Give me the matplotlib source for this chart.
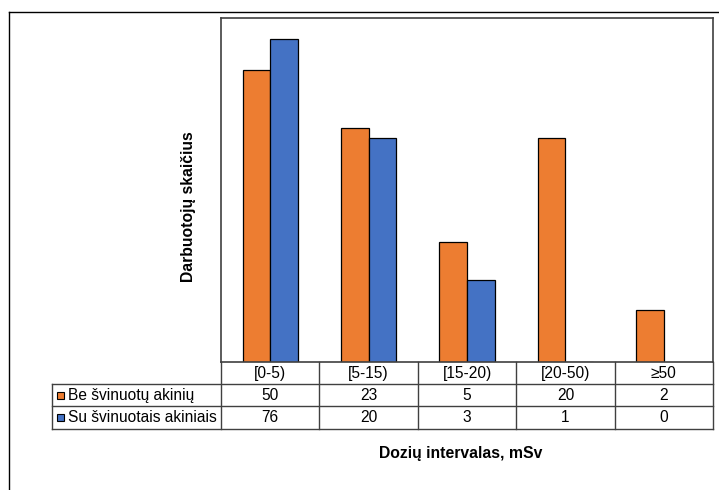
import numpy as np
import matplotlib.pyplot as plt
from matplotlib import transforms
from matplotlib.lines import Line2D
from matplotlib.patches import Rectangle

plt.rcParams['font.family'] = ['Liberation Sans', 'DejaVu Sans']

# Duomenys
intervalai = ["[0-5)", "[5-15)", "[15-20)", "[20-50)", "≥50"]
be_akiniu = [50, 23, 5, 20, 2]
su_akiniais = [76, 20, 3, 1, 0]
serijos = ["Be švinuotų akinių", "Su švinuotais akiniais"]
spalvos = ["#ED7D31", "#4472C4"]

W, H = 719, 490
fig = plt.figure(figsize=(W / 100, H / 100), dpi=100)

def fx(px):
    return px / W

def fy(py):
    return 1 - py / H

ax = fig.add_axes([fx(221), fy(362), fx(713) - fx(221), fy(18) - fy(362)])

x = np.arange(len(intervalai))
w = 0.28
for i, (vals, col) in enumerate(zip([be_akiniu, su_akiniais], spalvos)):
    v = np.array(vals, dtype=float)
    ok = v > 0
    ax.bar(x[ok] + (i - 0.5) * w, v[ok], width=w, color=col,
           edgecolor="black", linewidth=0.9)

ax.set_yscale("log")
ax.set_ylim(1, 100)
ax.set_xlim(-0.5, len(intervalai) - 0.5)
ax.set_xticks([])
ax.set_yticks([])
ax.yaxis.set_minor_locator(plt.NullLocator())
for s in ax.spines.values():
    s.set_color("#404040")
    s.set_linewidth(1.2)

# Lentelė po grafiku
tr = transforms.blended_transform_factory(ax.transData, fig.transFigure)
lc = "#404040"
fs = 11.2
rows_y = [362, 384, 406, 429]
for b in np.arange(len(intervalai) + 1) - 0.5:
    fig.add_artist(Line2D([b, b], [fy(362), fy(429)], transform=tr, color=lc, lw=1))
for r in rows_y[1:]:
    fig.add_artist(Line2D([fx(52), fx(713)], [fy(r), fy(r)], color=lc, lw=1))
fig.add_artist(Line2D([fx(52), fx(52)], [fy(384), fy(429)], color=lc, lw=1))

for i, lab in enumerate(intervalai):
    fig.text(i, fy(373), lab, transform=tr, ha="center", va="center", fontsize=fs)
for r, vals in enumerate([be_akiniu, su_akiniais]):
    yc = fy((rows_y[r + 1] + rows_y[r + 2]) / 2)
    for i, v in enumerate(vals):
        fig.text(i, yc, str(v), transform=tr, ha="center", va="center", fontsize=fs)
    fig.add_artist(Rectangle((fx(57), yc - 3.5 / H), 7 / W, 7 / H,
                             facecolor=spalvos[r], edgecolor="black", lw=0.8))
    fig.text(fx(68), yc, serijos[r], ha="left", va="center", fontsize=fs)

fig.text(fx(188), fy(207), "Darbuotojų skaičius", rotation=90, ha="center",
         va="center", fontsize=11.3, fontweight="bold")
fig.text(fx(461), fy(453), "Dozių intervalas, mSv", ha="center", va="center",
         fontsize=11.3, fontweight="bold")

# išorinis rėmelis
fig.add_artist(Line2D([fx(9), 1], [fy(12), fy(12)], color="black", lw=1))
fig.add_artist(Line2D([fx(9), fx(9)], [fy(12), 0], color="black", lw=1))

fig.savefig("out.png", dpi=100)
